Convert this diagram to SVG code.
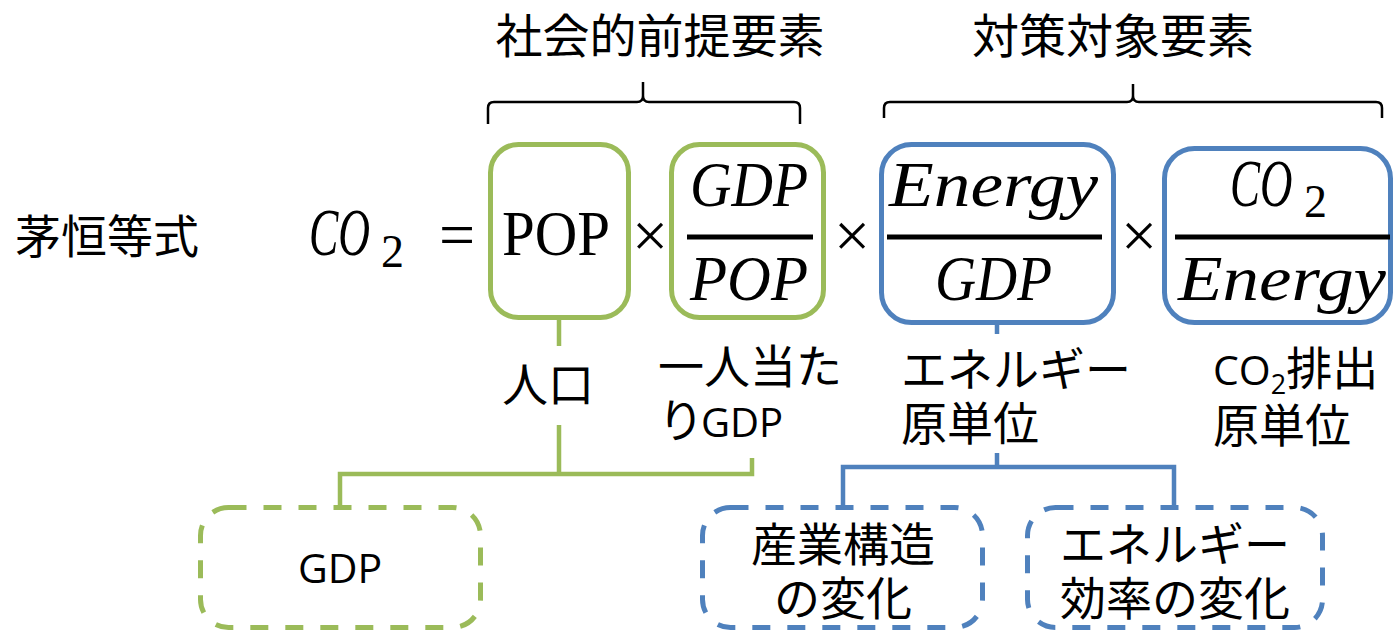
<svg xmlns="http://www.w3.org/2000/svg" width="1394" height="634" viewBox="0 0 1394 634">
<style>
.jp{font-family:"Noto Sans CJK JP","Noto Sans",sans-serif;font-size:46px;fill:#000}
.lat{font-family:"Open Sans","Liberation Sans",sans-serif}
.mi{font-family:"Liberation Serif",serif;font-style:italic;font-size:64px;fill:#000}
.mr{font-family:"Liberation Serif",serif;font-size:64px;fill:#000}
.g{fill:#fff;stroke:#9BBB59;stroke-width:5}
.b{fill:#fff;stroke:#4F81BD;stroke-width:5}
.gd{fill:#fff;stroke:#9BBB59;stroke-width:5;stroke-dasharray:18 17}
.bd{fill:#fff;stroke:#4F81BD;stroke-width:5;stroke-dasharray:18 17}
.brace{fill:none;stroke:#000;stroke-width:2.5}
.fl{stroke:#000;stroke-width:5}
</style>

<g id="titles">
<text class="jp" x="660" y="53" text-anchor="middle" style="font-size:47px">社会的前提要素</text>
<text class="jp" x="1113" y="53" text-anchor="middle" style="font-size:47px">対策対象要素</text>
<path class="brace" d="M488,124 V108 Q488,102 494,102 H637 Q643,102 643,96 V82 M643,96 Q643,102 649,102 H794 Q800,102 800,108 V124"/>
<path class="brace" d="M884,118 V108 Q884,102 890,102 H1127 Q1133,102 1133,96 V84 M1133,96 Q1133,102 1139,102 H1376 Q1382,102 1382,108 V118"/>
</g>

<g id="label-kaya">
<text class="jp" x="15" y="253">茅恒等式</text>
</g>

<g id="equation">
<text class="mi" style="font-size:44px" transform="translate(309,255) scale(1,1.52)">CO</text>
<text class="mr" x="381" y="267" style="font-size:46px">2</text>
<text class="mr" x="457" y="256" text-anchor="middle">=</text>
<text class="mr" x="650" y="257" text-anchor="middle">×</text>
<text class="mr" x="852" y="257" text-anchor="middle">×</text>
<text class="mr" x="1139" y="257" text-anchor="middle">×</text>
</g>

<g id="node-pop">
<rect class="g" x="490.5" y="144.5" width="138" height="173" rx="28"/>
<text class="mr" x="502" y="255" textLength="108" lengthAdjust="spacingAndGlyphs">POP</text>
</g>

<g id="node-gdp-pop">
<rect class="g" x="671.5" y="144.5" width="152" height="173" rx="28"/>
<text class="mi" x="690" y="206" textLength="118" lengthAdjust="spacingAndGlyphs">GDP</text>
<line class="fl" x1="687" y1="237" x2="813" y2="237"/>
<text class="mi" x="690" y="300" textLength="118" lengthAdjust="spacingAndGlyphs">POP</text>
</g>

<g id="node-energy-gdp">
<rect class="b" x="881.5" y="144.5" width="232" height="178" rx="30"/>
<text class="mi" x="889" y="206" textLength="209" lengthAdjust="spacingAndGlyphs">Energy</text>
<line class="fl" x1="887" y1="237" x2="1102" y2="237"/>
<text class="mi" x="935" y="300" textLength="117" lengthAdjust="spacingAndGlyphs">GDP</text>
</g>

<g id="node-co2-energy">
<rect class="b" x="1164.5" y="148.5" width="226" height="174" rx="30"/>
<text class="mi" style="font-size:45px" transform="translate(1230,206) scale(1,1.5)">CO</text>
<text class="mr" x="1304" y="217" style="font-size:46px">2</text>
<line class="fl" x1="1175" y1="237" x2="1390" y2="237"/>
<text class="mi" x="1178" y="300" textLength="208" lengthAdjust="spacingAndGlyphs">Energy</text>
</g>

<g id="label-jinko">
<text class="jp" x="502" y="401">人口</text>
</g>
<g id="label-per-capita">
<text class="jp" x="658" y="383">一人当た<tspan x="658" y="437">り</tspan><tspan class="lat" style="font-size:40px" dx="-3">GDP</tspan></text>
</g>
<g id="label-energy-intensity">
<text class="jp" x="901" y="386">エネルギー<tspan x="901" y="440">原単位</tspan></text>
</g>
<g id="label-co2-intensity">
<text class="jp" x="1213" y="385"><tspan class="lat" style="font-size:41px">CO</tspan><tspan class="lat" style="font-size:27px" dy="9">2</tspan><tspan dy="-9">排出</tspan><tspan x="1213" y="442">原単位</tspan></text>
</g>

<g id="connectors" fill="none" stroke-width="4.5">
<path stroke="#9BBB59" d="M559,320 V346 M559,425 V474 M340,505 V474 H752 V458"/>
<path stroke="#4F81BD" d="M997,323 V334 M997,453 V467 M843,505 V467 H1174 V505"/>
</g>

<g id="node-gdp">
<rect class="gd" x="200.5" y="507.5" width="280" height="120" rx="28"/>
<text class="jp lat" x="340" y="583" text-anchor="middle" style="font-size:41px">GDP</text>
</g>
<g id="node-industry">
<rect class="bd" x="702.5" y="507.5" width="280" height="120" rx="28"/>
<text class="jp" text-anchor="middle"><tspan x="843" y="561">産業構造</tspan><tspan x="843" y="615">の変化</tspan></text>
</g>
<g id="node-efficiency">
<rect class="bd" x="1027.5" y="507.5" width="295" height="120" rx="28"/>
<text class="jp" text-anchor="middle"><tspan x="1175" y="561">エネルギー</tspan><tspan x="1175" y="615">効率の変化</tspan></text>
</g>
</svg>
